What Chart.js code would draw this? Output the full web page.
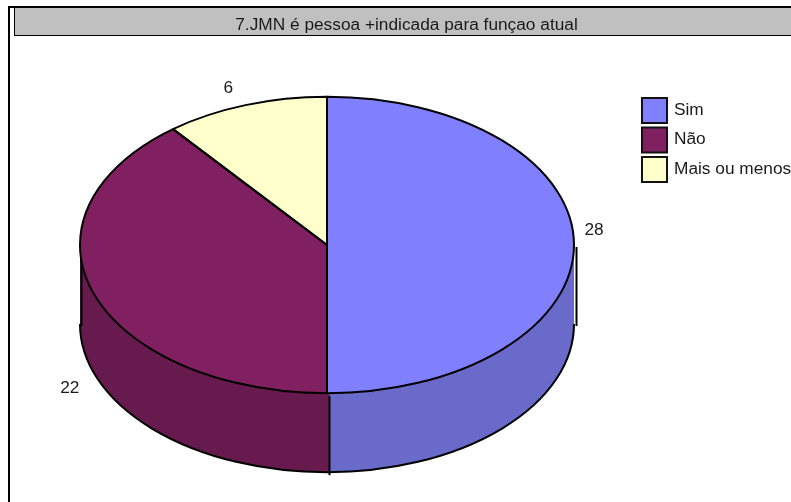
<!DOCTYPE html>
<html>
<head>
<meta charset="utf-8">
<style>html,body{margin:0;padding:0;background:#fff}canvas{display:block}</style>
<script src="https://cdn.jsdelivr.net/npm/chart.js@4"></script>
</head>
<body>
<canvas id="c" width="791" height="502"></canvas>
<script>
const chartTitle = "7.JMN é pessoa +indicada para funçao atual";
const categories = ["Sim", "Não", "Mais ou menos"];
const values = [28, 22, 6];
const topColors = ["#8080FF", "#802060", "#FFFFCC"];
const wallColors = ["#6A6ACB", "#661A4D", "#CCCCA3"];

const FONT = '17.3px "Liberation Sans", Arial, sans-serif';
const TILT = 0.6, DEPTH = 79, LIFT = 6, SEAM = 0.01;
const labelOffsets = [[20, -15], [-24, 94], [-17, -17]];

function arcs(chart) { return chart.getDatasetMeta(0).data; }

const pie3d = {
  id: 'pie3d',
  beforeDraw(chart) {
    const ctx = chart.ctx;
    ctx.save();
    ctx.fillStyle = '#fff';
    ctx.fillRect(0, 0, 791, 502);
    ctx.fillStyle = '#000';
    ctx.fillRect(8, 6, 783, 2);
    ctx.fillRect(8, 6, 2, 496);
    ctx.fillStyle = '#C0C0C0';
    ctx.fillRect(14, 8, 777, 28);
    ctx.fillStyle = '#000';
    ctx.fillRect(14, 8, 1, 28);
    ctx.fillRect(14, 35, 777, 1);
    ctx.fillStyle = '#1a1a1a';
    ctx.font = FONT;
    ctx.textBaseline = 'middle';
    ctx.textAlign = 'center';
    ctx.fillText(chartTitle, 406.5, 25);
    ctx.restore();
  },
  beforeDatasetsDraw(chart) {
    const ctx = chart.ctx;
    arcs(chart).forEach((el, i) => {
      const a0 = Math.max(el.startAngle, 0) - (i === 1 ? SEAM : 0), a1 = Math.min(el.endAngle, Math.PI);
      if (a1 <= a0) return;
      const cx = el.x, cy = el.y - LIFT, rx = el.outerRadius, ry = rx * TILT;
      ctx.save();
      ctx.beginPath();
      ctx.ellipse(cx, cy, rx, ry, 0, a0, a1);
      ctx.ellipse(cx, cy + DEPTH, rx, ry, 0, a1, a0, true);
      ctx.closePath();
      ctx.fillStyle = wallColors[i];
      ctx.fill();
      ctx.restore();
    });
    const el = arcs(chart)[0];
    const cx = el.x, cy = el.y - LIFT, rx = el.outerRadius, ry = rx * TILT;
    ctx.save();
    ctx.strokeStyle = '#000';
    ctx.lineWidth = 2;
    ctx.beginPath();
    ctx.ellipse(cx, cy + DEPTH, rx, ry, 0, 0, Math.PI);
    ctx.stroke();
    ctx.beginPath();
    ctx.moveTo(cx + rx + 2.5, cy + 2); ctx.lineTo(cx + rx + 2.5, cy + DEPTH + 2);
    ctx.moveTo(cx - rx + 1.5, cy + 2); ctx.lineTo(cx - rx + 1.5, cy + DEPTH + 2);
    ctx.moveTo(cx + 2.5, cy + ry + 3); ctx.lineTo(cx + 2.5, cy + ry + DEPTH + 3);
    ctx.stroke();
    ctx.restore();
    ctx.save();
    ctx.translate(0, cy);
    ctx.scale(1, TILT);
    ctx.translate(0, -el.y);
  },
  afterDatasetsDraw(chart) {
    const ctx = chart.ctx;
    ctx.restore();
    const els = arcs(chart);
    els.forEach((el) => {
      const cx = el.x, cy = el.y - LIFT, rx = el.outerRadius, ry = rx * TILT;
      ctx.save();
      ctx.strokeStyle = '#000';
      ctx.lineWidth = 2;
      ctx.lineJoin = 'round';
      ctx.beginPath();
      ctx.moveTo(cx, cy);
      ctx.ellipse(cx, cy, rx, ry, 0, el.startAngle, el.endAngle);
      ctx.closePath();
      ctx.stroke();
      ctx.restore();
    });
    ctx.save();
    ctx.font = FONT;
    ctx.fillStyle = '#1a1a1a';
    ctx.textAlign = 'center';
    ctx.textBaseline = 'middle';
    els.forEach((el, i) => {
      const mid = (el.startAngle + el.endAngle) / 2;
      const x = el.x + Math.cos(mid) * el.outerRadius;
      const y = el.y - LIFT + Math.sin(mid) * el.outerRadius * TILT;
      ctx.fillText(String(values[i]), x + labelOffsets[i][0], y + labelOffsets[i][1]);
    });
    ctx.textAlign = 'left';
    categories.forEach((name, i) => {
      const top = 98 + i * 29.5;
      ctx.fillStyle = topColors[i];
      ctx.fillRect(642, top, 25, 25);
      ctx.strokeStyle = '#111';
      ctx.lineWidth = 2;
      ctx.strokeRect(642, top, 25, 25);
      ctx.fillStyle = '#1a1a1a';
      ctx.fillText(name, 674, top + 12);
    });
    ctx.restore();
  }
};

new Chart(document.getElementById('c'), {
  type: 'pie',
  data: {
    labels: categories,
    datasets: [{ data: values, backgroundColor: topColors, borderWidth: 0, clip: false }]
  },
  options: {
    responsive: false,
    animation: false,
    events: [],
    layout: { padding: { left: 80, right: 217, top: 4, bottom: 4 } },
    plugins: { legend: { display: false }, title: { display: false }, tooltip: { enabled: false } }
  },
  plugins: [pie3d]
});
</script>
</body>
</html>
